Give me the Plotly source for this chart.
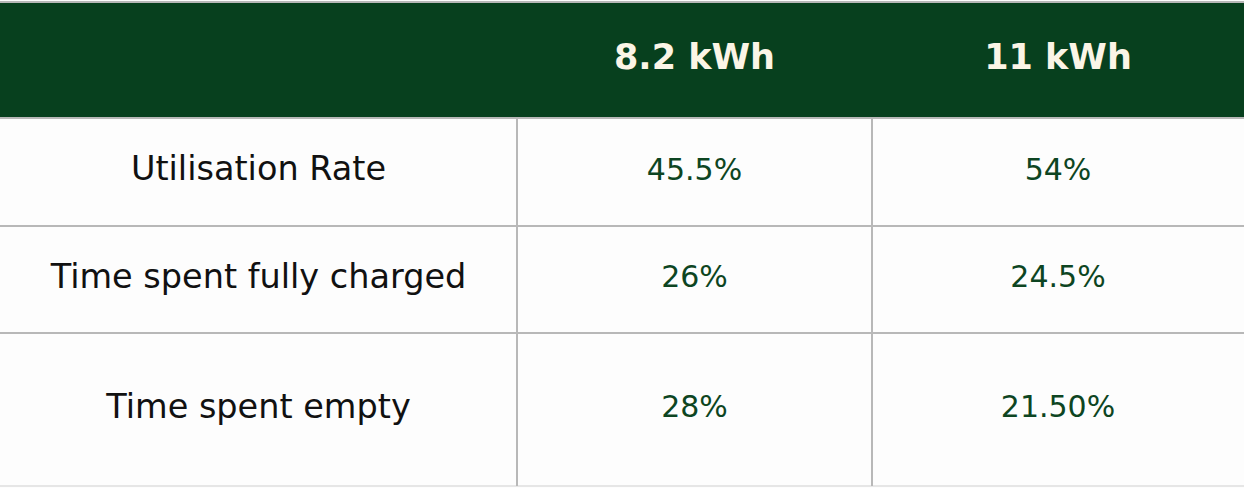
import plotly.graph_objects as go

# table content
header_labels = ["", "8.2 kWh", "11 kWh"]
metrics = ["Utilisation Rate", "Time spent fully charged", "Time spent empty"]
vals_8_2 = ["45.5%", "26%", "28%"]
vals_11 = ["54%", "24.5%", "21.50%"]

W, H = 1244, 488
col_edges = [0, 517, 872, W]
row_edges = [2, 118, 226, 333, 486]

GREEN = "#07401e"
CREAM = "#fbf5e6"
GRID = "#b8b8b8"
VAL_COLOR = "#0d4522"
FONT = "DejaVu Sans"


def mid(a, i):
    return (a[i] + a[i + 1]) / 2


fig = go.Figure()

shapes = []
# header band
shapes.append(dict(type="rect", x0=0, x1=W, y0=row_edges[0], y1=row_edges[1],
                   fillcolor=GREEN, line_width=0, layer="below"))
# top line
shapes.append(dict(type="line", x0=0, x1=W, y0=row_edges[0], y1=row_edges[0],
                   line=dict(color=GRID, width=2)))
# horizontal row separators
for y in row_edges[1:]:
    shapes.append(dict(type="line", x0=0, x1=W, y0=y, y1=y,
                       line=dict(color=GRID if y != row_edges[-1] else "#e6e6e6", width=2)))
# vertical separators in body
for x in col_edges[1:-1]:
    shapes.append(dict(type="line", x0=x, x1=x, y0=row_edges[1], y1=row_edges[-1],
                       line=dict(color=GRID, width=2)))

# header text
hx = [mid(col_edges, i) for i in range(3)]
fig.add_trace(go.Scatter(
    x=hx, y=[mid(row_edges, 0)] * 3, mode="text",
    text=["<b>%s</b>" % h if h else "" for h in header_labels],
    textfont=dict(family=FONT, size=35, color=CREAM),
    hoverinfo="skip", showlegend=False))

row_y = [mid(row_edges, i) for i in range(1, 4)]

fig.add_trace(go.Scatter(
    x=[hx[0]] * 3, y=row_y, mode="text", text=metrics,
    textfont=dict(family=FONT, size=33.5, color="#111111"),
    hoverinfo="skip", showlegend=False))
fig.add_trace(go.Scatter(
    x=[hx[1]] * 3, y=row_y, mode="text", text=vals_8_2,
    textfont=dict(family=FONT, size=30, color=VAL_COLOR),
    hoverinfo="skip", showlegend=False))
fig.add_trace(go.Scatter(
    x=[hx[2]] * 3, y=row_y, mode="text", text=vals_11,
    textfont=dict(family=FONT, size=30, color=VAL_COLOR),
    hoverinfo="skip", showlegend=False))

fig.update_layout(
    width=W, height=H,
    margin=dict(l=0, r=0, t=0, b=0),
    paper_bgcolor="#fdfdfd", plot_bgcolor="#fdfdfd",
    shapes=shapes,
    xaxis=dict(range=[0, W], visible=False, fixedrange=True),
    yaxis=dict(range=[H, 0], visible=False, fixedrange=True),
)

fig.write_html("out.html", config={"displayModeBar": False},
               post_script="document.body.style.margin='0';")
